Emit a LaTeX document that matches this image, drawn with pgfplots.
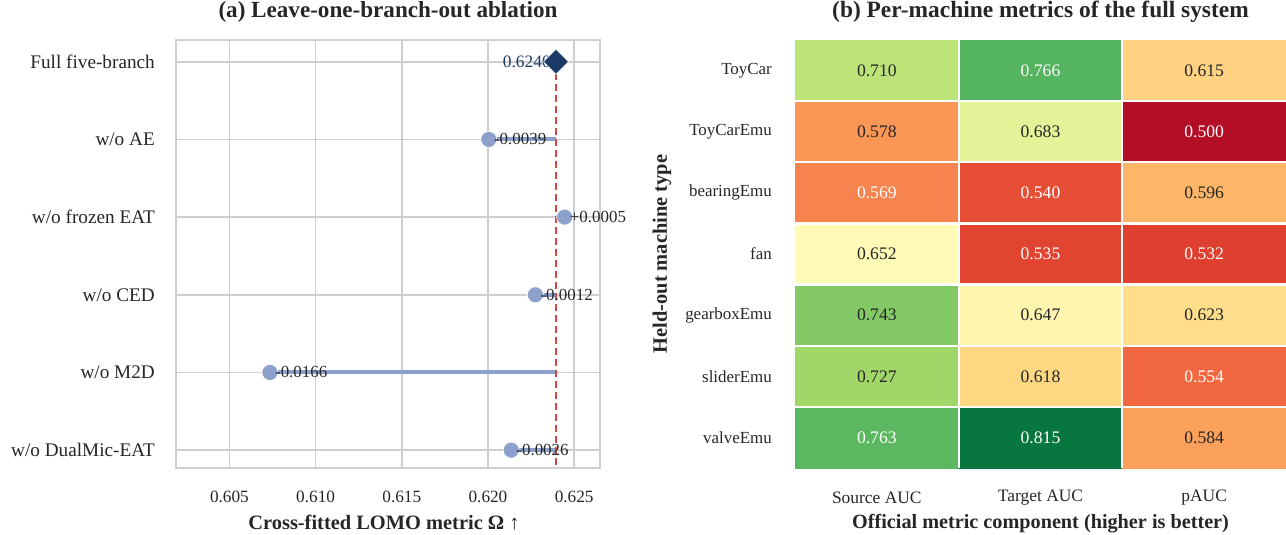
\documentclass[border=0pt]{standalone}
\usepackage{fontspec}
\setmainfont{Liberation Serif}
\usepackage{pgfplots}
\pgfplotsset{compat=1.18}
\usepackage{pgfplotstable}

\definecolor{stemblue}{HTML}{8DA0CB}
\definecolor{navy}{HTML}{1B3A66}
\definecolor{refred}{HTML}{D64541}
\definecolor{gridgray}{HTML}{CFCFCF}
\definecolor{txt}{HTML}{262626}

\pgfplotsset{
  colormap={rdylgn}{rgb255=(165,0,38) rgb255=(215,48,39) rgb255=(244,109,67) rgb255=(253,174,97) rgb255=(254,224,139) rgb255=(255,255,191) rgb255=(217,239,139) rgb255=(166,217,106) rgb255=(102,189,99) rgb255=(26,152,80) rgb255=(0,104,55)}
}

\pgfplotstableread{
x y c
0 0 0.710
1 0 0.766
2 0 0.615
0 1 0.578
1 1 0.683
2 1 0.500
0 2 0.569
1 2 0.540
2 2 0.596
0 3 0.652
1 3 0.535
2 3 0.532
0 4 0.743
1 4 0.647
2 4 0.623
0 5 0.727
1 5 0.618
2 5 0.554
0 6 0.763
1 6 0.815
2 6 0.584
}\heat

\pgfplotstableread{
x y lab
0 0 0.710
2 0 0.615
0 1 0.578
1 1 0.683
2 2 0.596
0 3 0.652
0 4 0.743
1 4 0.647
2 4 0.623
0 5 0.727
1 5 0.618
2 6 0.584
}\darklab

\pgfplotstableread{
x y lab
1 0 0.766
2 1 0.500
0 2 0.569
1 2 0.540
1 3 0.535
2 3 0.532
2 5 0.554
0 6 0.763
1 6 0.815
}\whitelab

\pgfplotstableread{
x y lab
0.62005 1 -0.0039
0.62445 2 +0.0005
0.62275 3 -0.0012
0.60735 4 -0.0166
0.62135 5 -0.0026
}\ablate

\begin{document}
\begin{tikzpicture}
\path[use as bounding box] (-176bp,40bp) rectangle (1110bp,-495bp);

\begin{axis}[
  at={(0,0)}, anchor=north west,
  scale only axis, width=424bp, height=428bp,
  xmin=0.6019, xmax=0.6265,
  ymin=-0.28, ymax=5.23, y dir=reverse,
  xtick={0.605,0.610,0.615,0.620,0.625},
  xticklabels={0.605,0.610,0.615,0.620,0.625},
  ytick={0,1,2,3,4,5},
  yticklabels={Full five-branch, w/o AE, w/o frozen EAT, w/o CED, w/o M2D, w/o DualMic-EAT},
  xmajorgrids, ymajorgrids,
  grid style={gridgray, line width=1.7bp},
  axis line style={gridgray, line width=2.2bp},
  major tick length=0pt,
  tick style={draw=none},
  xticklabel style={font=\fontsize{17.3}{20}\selectfont, text=txt, anchor=center, inner sep=0pt, yshift=-29bp},
  yticklabel style={font=\fontsize{19.3}{22}\selectfont, text=txt, anchor=east, inner sep=0pt, xshift=-21bp},
  title={(a) Leave-one-branch-out ablation},
  title style={font=\bfseries\fontsize{23.2}{26}\selectfont, text=txt, at={(0.5,1)}, anchor=center, yshift=22bp},
  xlabel={Cross-fitted LOMO metric Ω ↑},
  xlabel style={font=\bfseries\fontsize{20.5}{24}\selectfont, text=txt, at={(0.5,0)}, anchor=center, yshift=-55bp, xshift=-4bp},
  clip=false,
]
\addplot[stemblue, line width=4bp] coordinates {(0.62005,1) (0.62395,1)};
\addplot[stemblue, line width=4bp] coordinates {(0.62445,2) (0.62395,2)};
\addplot[stemblue, line width=4bp] coordinates {(0.62275,3) (0.62395,3)};
\addplot[stemblue, line width=4bp] coordinates {(0.60735,4) (0.62395,4)};
\addplot[stemblue, line width=4bp] coordinates {(0.62135,5) (0.62395,5)};
\addplot[refred, line width=1.8bp, dash pattern=on 7bp off 4bp] coordinates {(0.62395,0) (0.62395,5.23)};
\addplot[only marks, mark=*, mark size=8bp, color=stemblue, mark options={draw=white, line width=0.6bp}] table[x=x,y=y] {\ablate};
\addplot[draw=none, mark=none, point meta=explicit symbolic, nodes near coords,
  nodes near coords style={anchor=west, xshift=5bp, inner sep=0pt, text=txt, font=\fontsize{17}{20}\selectfont}]
  table[x=x,y=y,meta=lab] {\ablate};
\addplot[draw=none, mark=none, point meta=explicit symbolic, nodes near coords,
  nodes near coords style={anchor=east, xshift=-5bp, inner sep=0pt, text=navy, font=\fontsize{17.5}{20}\selectfont}]
  coordinates {(0.62395,0) [0.6240]};
\addplot[only marks, mark=square*, mark size=8.9bp, color=navy, mark options={rotate=45, draw=white, line width=0.6bp}] coordinates {(0.62395,0)};
\end{axis}

\begin{axis}[
  at={(619bp,0)}, anchor=north west,
  scale only axis, width=491bp, height=428bp,
  xmin=-0.5, xmax=2.5, ymin=-0.5, ymax=6.5, y dir=reverse,
  xtick={0,1,2}, xticklabels={Source AUC, Target AUC, pAUC},
  ytick={0,...,6}, yticklabels={ToyCar, ToyCarEmu, bearingEmu, fan, gearboxEmu, sliderEmu, valveEmu},
  minor xtick={0.5,1.5}, minor ytick={0.5,1.5,2.5,3.5,4.5,5.5},
  xminorgrids, yminorgrids,
  minor grid style={white, line width=2.2bp},
  axis on top,
  axis line style={draw=none},
  tick style={draw=none},
  major tick length=0pt, minor tick length=0pt,
  colormap name=rdylgn,
  point meta min=0.49, point meta max=0.825,
  xticklabel style={font=\fontsize{17.5}{20}\selectfont, text=txt, anchor=center, inner sep=0pt, yshift=-30bp},
  yticklabel style={font=\fontsize{17}{20}\selectfont, text=txt, anchor=east, inner sep=0pt, xshift=-23bp},
  title={(b) Per-machine metrics of the full system},
  title style={font=\bfseries\fontsize{23.5}{26}\selectfont, text=txt, at={(0.5,1)}, anchor=center, yshift=22bp},
  xlabel={Official metric component (higher is better)},
  xlabel style={font=\bfseries\fontsize{20.3}{24}\selectfont, text=txt, at={(0.5,0)}, anchor=center, yshift=-56bp},
  ylabel={Held-out machine type},
  ylabel style={font=\bfseries\fontsize{20.5}{24}\selectfont, text=txt, at={(0,0.5)}, anchor=center, yshift=133bp},
  clip=false,
]
\addplot[matrix plot*, mesh/cols=3, point meta=explicit] table[x=x, y=y, meta=c] {\heat};
\addplot[draw=none, mark=none, point meta=explicit symbolic, nodes near coords,
  nodes near coords style={anchor=center, inner sep=0pt, text=txt, font=\fontsize{17.7}{20}\selectfont}]
  table[x=x,y=y,meta=lab] {\darklab};
\addplot[draw=none, mark=none, point meta=explicit symbolic, nodes near coords,
  nodes near coords style={anchor=center, inner sep=0pt, text=white, font=\fontsize{17.7}{20}\selectfont}]
  table[x=x,y=y,meta=lab] {\whitelab};
\end{axis}
\end{tikzpicture}
\end{document}
